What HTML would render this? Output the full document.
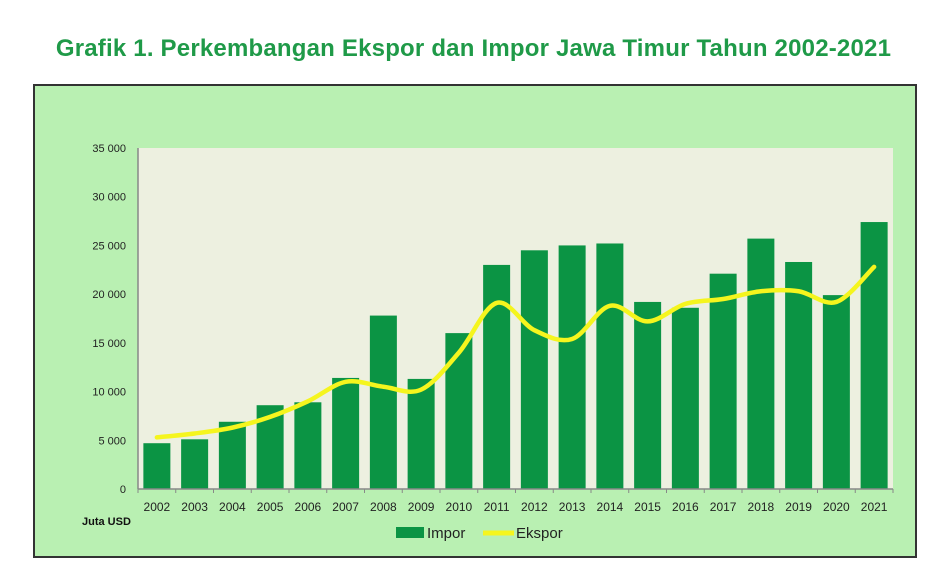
<!DOCTYPE html>
<html><head><meta charset="utf-8"><style>
body{margin:0;width:947px;height:582px;background:#fff;overflow:hidden;font-family:"Liberation Sans",sans-serif}
#title{position:absolute;left:0;width:947px;top:35px;text-align:center;font-size:24px;font-weight:bold;color:#1f9a48;letter-spacing:0.2px}
</style></head><body>
<div id="title">Grafik 1. Perkembangan Ekspor dan Impor Jawa Timur Tahun 2002-2021</div>
<svg id="chart" width="947" height="582" style="position:absolute;left:0;top:0"></svg>
<script>
const years=["2002","2003","2004","2005","2006","2007","2008","2009","2010","2011","2012","2013","2014","2015","2016","2017","2018","2019","2020","2021"];
const impor=[4700,5100,6900,8600,8900,11400,17800,11300,16000,23000,24500,25000,25200,19200,18600,22100,25700,23300,19900,27400];
const ekspor=[5300,5700,6300,7400,9000,11000,10500,10200,14000,19100,16300,15400,18800,17200,19000,19500,20300,20300,19200,22800];
const yTicks=[0,5000,10000,15000,20000,25000,30000,35000];
const yTickLabels=["0","5 000","10 000","15 000","20 000","25 000","30 000","35 000"];
const NS="http://www.w3.org/2000/svg";
const svg=document.getElementById('chart');
const L=138,R=893,T=148,B=489,yMax=35000;
const cw=(R-L)/years.length;
const x=i=>L+cw*(i+0.5);
const y=v=>B-(v/yMax)*(B-T);
function el(t,a){const e=document.createElementNS(NS,t);for(const k in a)e.setAttribute(k,a[k]);svg.appendChild(e);return e;}
let e;
e=el('rect',{x:34,y:85,width:882,height:472,fill:'#b9f0b2',stroke:'#333','stroke-width':2});


e=el('rect',{x:L,y:T,width:R-L,height:B-T,fill:'#edf0e0'});


yTicks.forEach((t,i)=>{
  e=el('text',{x:126,y:y(t)+4,'text-anchor':'end','font-size':11,fill:'#222','font-family':'Liberation Sans'});
  e.textContent=yTickLabels[i];
  
  
});
impor.forEach((v,i)=>{
  e=el('rect',{x:x(i)-13.5,y:y(v),width:27,height:B-y(v),fill:'#0b9444'});
  
  
});
el('line',{x1:L,y1:T,x2:L,y2:B,stroke:'#888','stroke-width':1.5});
el('line',{x1:L,y1:B,x2:R,y2:B,stroke:'#888','stroke-width':1.5});
for(let i=0;i<=years.length;i++){el('line',{x1:L+cw*i,y1:B,x2:L+cw*i,y2:B+4,stroke:'#888'});}
years.forEach((yr,i)=>{
  e=el('text',{x:x(i),y:511,'text-anchor':'middle','font-size':12,fill:'#222'});
  e.textContent=yr;
  
  
});
const pts=ekspor.map((v,i)=>[x(i),y(v)]);
let d='M'+pts[0][0]+','+pts[0][1];
for(let i=0;i<pts.length-1;i++){
  const p0=pts[Math.max(0,i-1)],p1=pts[i],p2=pts[i+1],p3=pts[Math.min(pts.length-1,i+2)];
  const c1=[p1[0]+(p2[0]-p0[0])/6,p1[1]+(p2[1]-p0[1])/6];
  const c2=[p2[0]-(p3[0]-p1[0])/6,p2[1]-(p3[1]-p1[1])/6];
  d+=` C${c1[0]},${c1[1]} ${c2[0]},${c2[1]} ${p2[0]},${p2[1]}`;
}
e=el('path',{d:d,fill:'none',stroke:'#f5f51e','stroke-width':4.5,'stroke-linecap':'round'});


e=el('text',{x:82,y:525,'font-size':11,'font-weight':'bold',fill:'#111'});
e.textContent='Juta USD';


e=el('rect',{x:396,y:527,width:28,height:11,fill:'#0b9444'});


e=el('text',{x:427,y:538,'font-size':15,fill:'#222'});
e.textContent='Impor';


e=el('line',{x1:483,y1:533,x2:514,y2:533,stroke:'#f5f51e','stroke-width':5});


e=el('text',{x:516,y:538,'font-size':15,fill:'#222'});
e.textContent='Ekspor';


</script>
</body></html>
